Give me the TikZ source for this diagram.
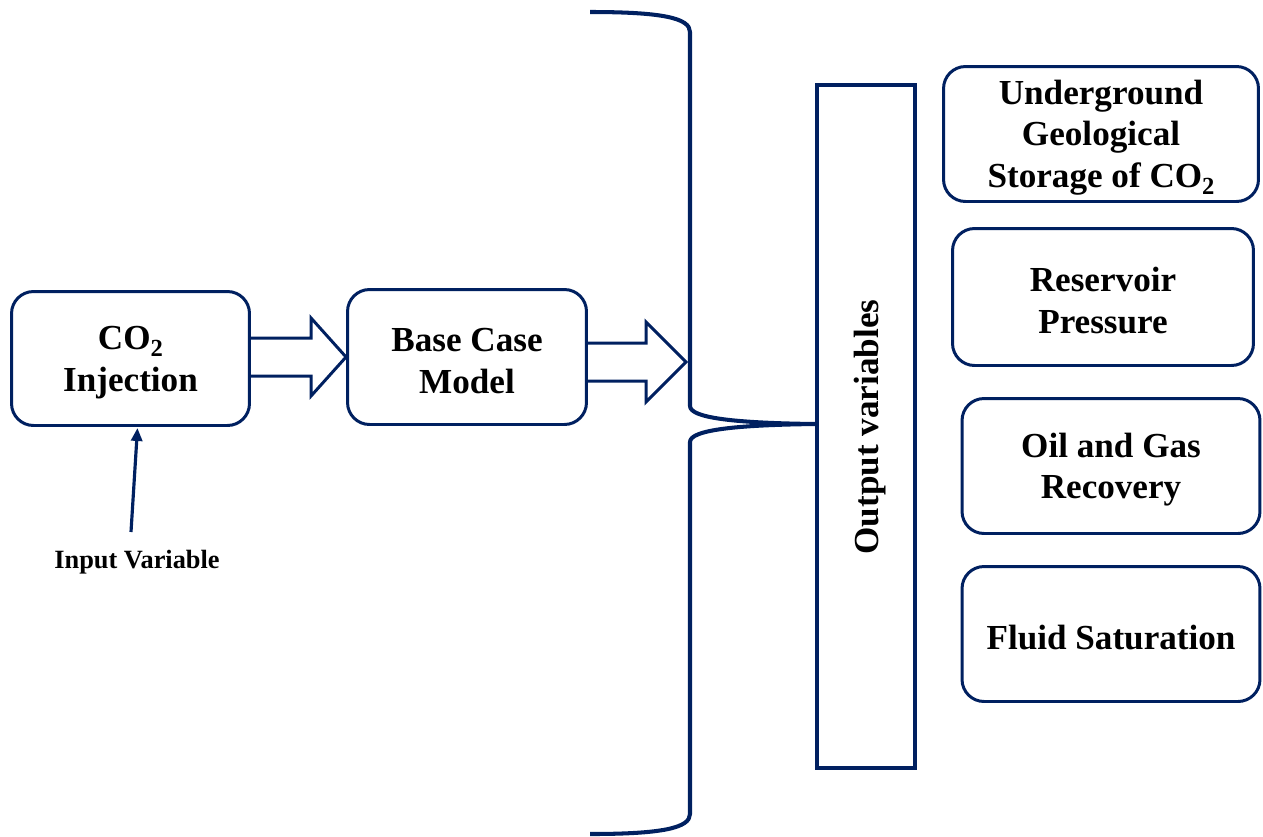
\documentclass[tikz,border=0pt]{standalone}
\usepackage{fontspec}
\setmainfont{Liberation Serif}
\usetikzlibrary{calc,arrows.meta}
\definecolor{navy}{RGB}{0,32,96}
% subscript two, set lower as in the slide style
\newcommand{\subtwo}{\raisebox{-4pt}{\fontsize{14}{14}\selectfont 2}}
% strut that lowers the first text line a little inside the boxes
\newcommand{\firststrut}{\rule{0pt}{18pt}}
\begin{document}
\begin{tikzpicture}[x=0.02cm,y=-0.02cm,
  box/.style={draw=navy,line width=1.7pt,rounded corners=0.44cm,fill=white,
    align=center,font=\fontsize{20}{23.8}\selectfont\bfseries,inner sep=0pt},
  blk/.style={draw=navy,line width=1.7pt,line join=miter},
  brace/.style={draw=navy,line width=2.3pt,line join=round},
  outbox/.style={draw=navy,line width=2.3pt,inner sep=0pt},
  lbl/.style={font=\fontsize{15}{18}\selectfont\bfseries,inner sep=0pt}]
\useasboundingbox (0,0) rectangle (1263,836);

% process boxes
\node[box,minimum width=4.76cm,minimum height=2.68cm] (inj) at (130.5,358.5)
  {\firststrut CO\subtwo\\Injection};
\node[box,minimum width=4.78cm,minimum height=2.70cm] (base) at (467,357)
  {\firststrut Base Case\\Model};

% input variable
\node[lbl] (inp) at (137,562) {Input Variable};
\coordinate (ivtail) at (131,532);
\draw[navy,line width=1.8pt,-{Triangle[length=0.26cm,width=0.22cm]}]
  (ivtail) -- ($(inj.south)+(7,1)$);

% output column and result boxes
\node[outbox,minimum width=1.96cm,minimum height=13.66cm] (out) at (866,426.5) {};
\node[rotate=90,font=\fontsize{20}{24}\selectfont\bfseries] (outlbl) at (870,427)
  {Output variables};

\node[box,minimum width=6.30cm,minimum height=2.70cm] (r1) at (1101,134)
  {\firststrut Underground\\Geological\\Storage of CO\subtwo};
\node[box,minimum width=6.02cm,minimum height=2.74cm] (r2) at (1103,297)
  {\firststrut Reservoir\\Pressure};
\node[box,minimum width=5.96cm,minimum height=2.70cm] (r3) at (1111,466)
  {\firststrut Oil and Gas\\Recovery};
\node[box,minimum width=5.96cm,minimum height=2.70cm] (r4) at (1111,634)
  {\firststrut Fluid Saturation};

% right brace gathering into the output column
\coordinate (btip) at (out.west |- 0,424);
\draw[brace] (590,12) .. controls (662,12) and (690,18) .. (690,32)
  -- (690,406) .. controls (690,418) and (735,423) .. (btip)
  .. controls (735,425) and (690,430) .. (690,442)
  -- (690,814) .. controls (690,828) and (662,834) .. (590,834);
\coordinate (bin) at (686,362);

% block arrows
\draw[blk] ($(inj.east |- base.west)+(0,-19)$) -- ($(base.west)+(-35,-19)$)
  -- ($(base.west)+(-35,-39)$) -- (base.west) -- ($(base.west)+(-35,39)$)
  -- ($(base.west)+(-35,19)$) -- ($(inj.east |- base.west)+(0,19)$);
\draw[blk] ($(base.east |- bin)+(0,-19)$) -- ($(bin)+(-40,-19)$)
  -- ($(bin)+(-40,-40)$) -- (bin) -- ($(bin)+(-40,40)$)
  -- ($(bin)+(-40,19)$) -- ($(base.east |- bin)+(0,19)$);
\end{tikzpicture}
\end{document}
